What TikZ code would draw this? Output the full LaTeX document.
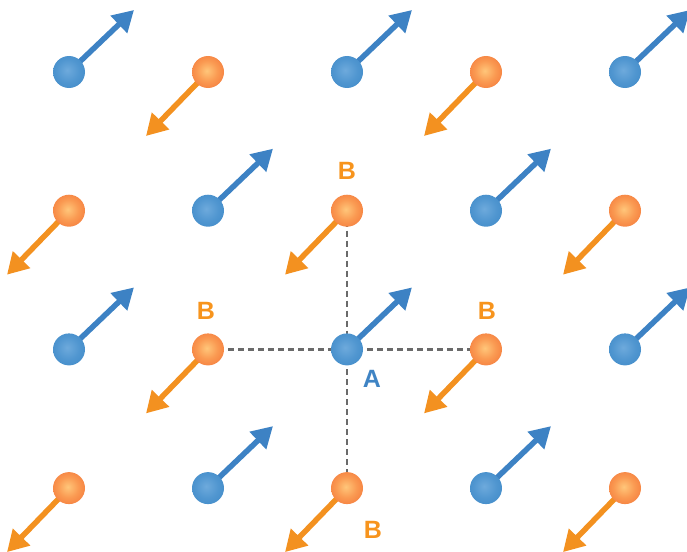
\documentclass[tikz,border=0pt]{standalone}
\usepackage{fontspec}
\setmainfont{Liberation Sans}
\usetikzlibrary{arrows.meta,backgrounds}

\definecolor{spinblue}{HTML}{3D82C4}
\definecolor{spinorange}{HTML}{F39120}
\definecolor{labelorange}{HTML}{F7941D}
\definecolor{labelblue}{HTML}{3F84C4}
\definecolor{bondgray}{HTML}{6A6A6A}

% sphere tones
\definecolor{bluehi}{HTML}{6EAADC}
\definecolor{bluemid}{HTML}{5096D0}
\definecolor{bluebody}{HTML}{3A86C5}
\definecolor{bluerim}{HTML}{3880C0}
\definecolor{orangehi}{HTML}{FFC67A}
\definecolor{orangemid}{HTML}{FA9A52}
\definecolor{orangebody}{HTML}{F37236}
\definecolor{orangerim}{HTML}{EA6230}

% sphere-like fills for the two kinds of site
\pgfdeclareradialshading{bluesphere}{\pgfpoint{-3bp}{3bp}}{%
  color(0bp)=(bluehi);
  color(18bp)=(bluemid);
  color(40bp)=(bluebody);
  color(50bp)=(bluerim)}
\pgfdeclareradialshading{orangesphere}{\pgfpoint{-2bp}{2bp}}{%
  color(0bp)=(orangehi);
  color(16bp)=(orangemid);
  color(36bp)=(orangebody);
  color(50bp)=(orangerim)}

\tikzset{
  site/.style={circle, minimum size=32pt, inner sep=0pt},
  upsite/.style={site, shading=bluesphere},
  downsite/.style={site, shading=orangesphere},
  spinarrow/.style={line width=5.5pt, -{Triangle[length=21pt,width=23pt]}},
  upspin/.style={spinarrow, draw=spinblue},
  downspin/.style={spinarrow, draw=spinorange},
  bond/.style={draw=bondgray, line width=2.4pt, dash pattern=on 6pt off 4pt},
  tag/.style={font=\fontsize{25}{25}\selectfont\bfseries, inner sep=0pt},
}

\begin{document}
\begin{tikzpicture}[x=1pt,y=-1pt]
\useasboundingbox (0,0) rectangle (687,551);

% square lattice of alternating spins
\foreach \r in {0,...,3}{
  \foreach \c in {0,...,4}{
    \pgfmathsetmacro{\px}{69+139*\c}
    \pgfmathsetmacro{\py}{72+138.7*\r}
    \pgfmathtruncatemacro{\parity}{mod(\r+\c,2)}
    \ifnum\parity=0
      \node[upsite] (s-\r-\c) at (\px,\py) {};
      \coordinate (t-\r-\c) at (\px+65,\py-62);
      \begin{scope}[on background layer]
        \draw[upspin] (s-\r-\c.center) -- (t-\r-\c);
      \end{scope}
    \else
      \node[downsite] (s-\r-\c) at (\px,\py) {};
      \coordinate (t-\r-\c) at (\px-62,\py+64);
      \begin{scope}[on background layer]
        \draw[downspin] (s-\r-\c.center) -- (t-\r-\c);
      \end{scope}
    \fi
  }
}

% nearest-neighbour bonds around the central site
\begin{scope}[on background layer]
  \draw[bond] (s-1-2.center) -- (s-2-2.center);
  \draw[bond] (s-2-2.center) -- (s-3-2.center);
  \draw[bond] (s-2-1.center) -- (s-2-2.center);
  \draw[bond] (s-2-2.center) -- (s-2-3.center);
\end{scope}

% labels
\node[tag, text=labelorange] (bt) at (347,171) {B};
\node[tag, text=labelorange] (bl) at (206,311) {B};
\node[tag, text=labelorange] (br) at (487,311) {B};
\node[tag, text=labelorange] (bb) at (373,530) {B};
\node[tag, text=labelblue]   (a)  at (372,379) {A};
\end{tikzpicture}
\end{document}
